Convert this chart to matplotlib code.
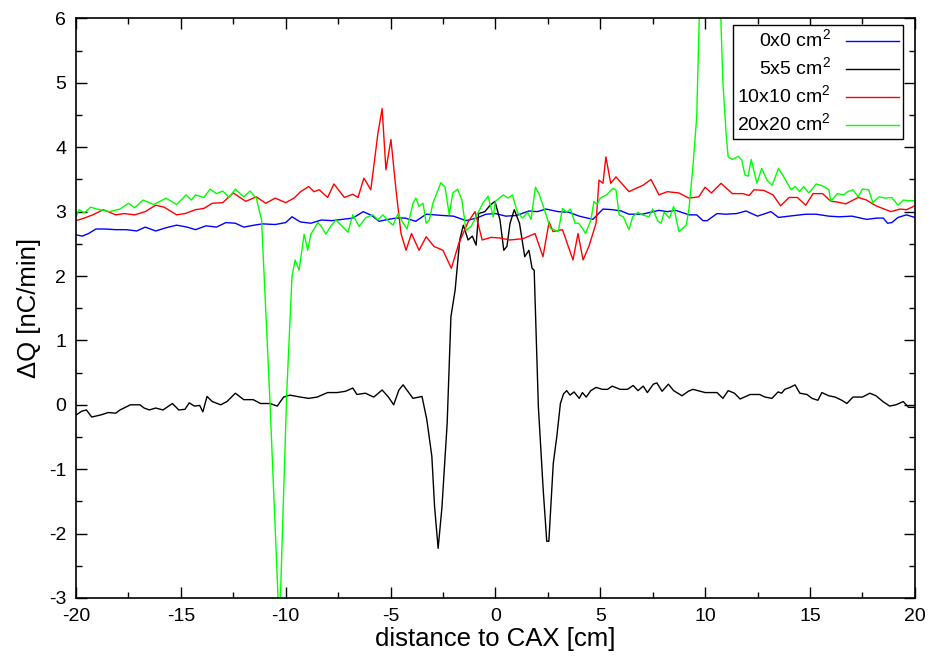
import matplotlib
matplotlib.use("Agg")
import matplotlib.pyplot as plt
from matplotlib.ticker import MultipleLocator

# --- data (x in cm, dQ in nC/min) ---
x_0x0 = [-20, -19.7, -19.4, -19.05, -18.6, -18.1, -17.6, -17.1, -16.7, -16.2,
         -15.7, -15.2, -14.7, -14.3, -13.8, -13.3, -12.85, -12.4, -12.0, -11.5,
         -11.1, -10.5, -10.0, -9.7, -9.3, -8.8, -8.3, -7.8, -7.3, -6.8,
         -6.3, -5.9, -5.55, -5.1, -4.74, -4.3, -3.8, -3.3, -2.9, -2.5,
         -2.0, -1.4, -0.9, -0.45, 0.0, 0.5, 1.0, 1.6, 2.0, 2.41,
         3.0, 3.5, 4.0, 4.65, 5.13, 5.6, 6.0, 6.37, 7.0, 7.4,
         7.8, 8.2, 8.6, 9.23, 9.6, 9.9, 10.1, 10.57, 11.0, 11.5,
         11.95, 12.5, 13.14, 13.5, 14.0, 14.8, 15.3, 15.9, 16.4, 17.0,
         17.7, 18.2, 18.5, 18.7, 18.9, 19.2, 19.6, 20.0]
q_0x0 = [2.64, 2.62, 2.66, 2.73, 2.73, 2.72, 2.72, 2.7, 2.76, 2.7,
         2.75, 2.79, 2.76, 2.72, 2.78, 2.76, 2.83, 2.82, 2.76, 2.79,
         2.81, 2.8, 2.83, 2.92, 2.84, 2.82, 2.87, 2.86, 2.88, 2.9,
         3.0, 2.94, 2.85, 2.88, 2.9, 2.9, 2.85, 2.96, 2.95, 2.94,
         2.93, 2.86, 2.9, 2.96, 2.97, 2.93, 2.94, 3.01, 3.0, 3.04,
         3.0, 2.99, 2.93, 2.88, 3.04, 3.03, 3.01, 2.96, 2.96, 2.99,
         3.02, 3.0, 3.02, 2.95, 2.95, 2.86, 2.86, 2.97, 2.96, 2.97,
         3.01, 2.93, 3.0, 2.91, 2.93, 2.96, 2.96, 2.93, 2.92, 2.93,
         2.88, 2.9, 2.9, 2.82, 2.83, 2.91, 2.95, 2.91]

x_5x5 = [-20, -19.73, -19.5, -19.25, -18.85, -18.45, -18.1, -17.9, -17.4, -16.95,
         -16.75, -16.5, -16.2, -15.85, -15.4, -15.1, -14.8, -14.6, -14.35, -14.1,
         -13.95, -13.75, -13.5, -13.1, -12.8, -12.4, -12.0, -11.55, -11.2, -10.75,
         -10.4, -10.1, -9.8, -9.3, -8.9, -8.5, -8.0, -7.55, -7.15, -6.8,
         -6.6, -6.2, -5.8, -5.4, -5.1, -4.85, -4.6, -4.4, -4.2, -3.93,
         -3.5, -3.27, -3.03, -2.9, -2.73, -2.55, -2.3, -2.12, -1.92, -1.7,
         -1.53, -1.3, -1.1, -0.92, -0.8, -0.5, -0.25, -0.02, 0.22, 0.4,
         0.55, 0.7, 0.9, 1.15, 1.4, 1.6, 1.75, 1.85, 2.05, 2.28,
         2.45, 2.55, 2.76, 2.93, 3.1, 3.25, 3.4, 3.56, 3.75, 4.0,
         4.15, 4.33, 4.55, 4.8, 5.1, 5.35, 5.57, 5.95, 6.3, 6.57,
         6.8, 7.05, 7.25, 7.53, 7.7, 7.95, 8.25, 8.5, 8.9, 9.2,
         9.42, 10.0, 10.57, 10.85, 11.1, 11.4, 11.67, 12.15, 12.6, 12.86,
         13.19, 13.48, 13.65, 13.8, 14.05, 14.29, 14.52, 14.86, 15.1, 15.38,
         15.57, 15.9, 16.2, 16.52, 16.76, 17.05, 17.5, 17.86, 18.15, 18.48,
         18.8, 19.1, 19.45, 19.7, 20.0]
q_5x5 = [-0.16, -0.1, -0.08, -0.19, -0.16, -0.12, -0.13, -0.08, 0.0, 0.0,
         -0.05, -0.08, -0.05, -0.08, 0.02, -0.08, -0.07, 0.03, -0.02, -0.01,
         -0.11, 0.13, 0.05, 0.0, 0.05, 0.18, 0.08, 0.08, 0.02, 0.02,
         -0.02, 0.12, 0.15, 0.12, 0.1, 0.12, 0.19, 0.19, 0.21, 0.26,
         0.16, 0.18, 0.12, 0.23, 0.12, 0.0, 0.23, 0.31, 0.22, 0.1,
         0.13, -0.23, -0.8, -1.58, -2.23, -1.6, -0.29, 1.37, 1.78, 2.56,
         2.79, 2.56, 2.62, 2.48, 2.97, 3.0, 3.1, 3.16, 2.87, 2.4,
         2.46, 2.82, 3.03, 2.82, 2.3, 2.4, 2.12, 2.09, -0.03, -1.32,
         -2.12, -2.12, -0.91, -0.49, 0.02, 0.17, 0.22, 0.15, 0.2, 0.1,
         0.19, 0.12, 0.22, 0.27, 0.24, 0.24, 0.29, 0.24, 0.24, 0.3,
         0.22, 0.29, 0.19, 0.32, 0.34, 0.21, 0.32, 0.22, 0.14, 0.21,
         0.24, 0.19, 0.19, 0.1, 0.22, 0.18, 0.09, 0.16, 0.16, 0.12,
         0.1, 0.2, 0.18, 0.24, 0.27, 0.31, 0.18, 0.16, 0.1, 0.07,
         0.19, 0.14, 0.12, 0.07, 0.02, 0.12, 0.12, 0.18, 0.14, 0.05,
         -0.02, 0.0, 0.05, -0.04, -0.04]

x_10x10 = [-20, -19.6, -19.2, -18.7, -18.1, -17.7, -17.2, -16.7, -16.2, -15.8,
           -15.2, -14.8, -14.3, -13.9, -13.5, -13.0, -12.5, -11.9, -11.4, -10.95,
           -10.5, -10.0, -9.6, -9.29, -8.9, -8.65, -8.4, -8.0, -7.7, -7.2,
           -6.8, -6.55, -6.27, -5.94, -5.6, -5.4, -5.22, -4.98, -4.74, -4.5,
           -4.26, -4.0, -3.64, -3.3, -2.93, -2.5, -2.1, -1.74, -1.3, -0.97,
           -0.63, -0.2, 0.22, 0.7, 1.32, 1.89, 2.27, 2.56, 2.75, 3.2,
           3.7, 3.94, 4.18, 4.46, 4.8, 4.94, 5.13, 5.27, 5.5, 5.75,
           6.1, 6.37, 6.7, 7.04, 7.42, 7.8, 8.2, 8.75, 9.23, 9.7,
           10.0, 10.3, 10.76, 11.3, 11.8, 12.1, 12.33, 12.8, 13.24, 13.6,
           14.0, 14.4, 14.8, 15.15, 15.6, 16.0, 16.3, 16.7, 17.3, 17.7,
           18.15, 18.86, 19.3, 19.6, 20.0]
q_10x10 = [2.86, 2.9, 2.95, 3.03, 2.95, 2.97, 2.95, 3.0, 3.1, 3.07,
           2.95, 2.97, 3.03, 3.05, 3.13, 3.14, 3.29, 3.16, 3.23, 3.13,
           3.21, 3.14, 3.21, 3.31, 3.39, 3.31, 3.34, 3.22, 3.43, 3.22,
           3.27, 3.22, 3.52, 3.34, 4.22, 4.6, 3.65, 4.12, 3.34, 2.66,
           2.4, 2.66, 2.4, 2.61, 2.46, 2.4, 2.12, 2.51, 2.84, 3.0,
           2.56, 2.6, 2.59, 2.56, 2.58, 2.66, 2.3, 2.84, 2.69, 2.72,
           2.25, 2.66, 2.25, 2.46, 2.82, 3.49, 3.44, 3.85, 3.44, 3.54,
           3.41, 3.31, 3.36, 3.41, 3.5, 3.26, 3.31, 3.29, 3.21, 3.23,
           3.38, 3.29, 3.44, 3.28, 3.28, 3.25, 3.34, 3.33, 3.26, 3.09,
           3.22, 3.22, 3.1, 3.28, 3.28, 3.16, 3.15, 3.12, 3.22, 3.18,
           3.09, 3.0, 3.04, 3.03, 3.09]

x_20x20 = [-20, -19.85, -19.6, -19.3, -19.0, -18.4, -17.9, -17.5, -17.2, -16.8,
           -16.3, -15.7, -15.2, -14.75, -14.5, -14.3, -13.9, -13.6, -13.3, -13.0,
           -12.7, -12.4, -12.0, -11.7, -11.4, -11.15, -10.76, -10.3, -9.95, -9.7,
           -9.55, -9.36, -9.12, -8.95, -8.8, -8.46, -8.3, -8.08, -7.84, -7.6,
           -7.3, -7.03, -6.8, -6.5, -6.17, -5.84, -5.6, -5.36, -5.1, -4.88,
           -4.64, -4.4, -4.21, -3.93, -3.79, -3.64, -3.45, -3.3, -3.15, -2.98,
           -2.6, -2.4, -2.2, -2.03, -1.8, -1.6, -1.4, -1.16, -0.92, -0.6,
           -0.35, -0.1, 0.0, 0.38, 0.6, 0.81, 1.05, 1.3, 1.53, 1.7,
           1.91, 2.1, 2.38, 2.62, 2.8, 3.0, 3.2, 3.4, 3.58, 3.8,
           3.97, 4.15, 4.3, 4.56, 4.7, 4.85, 5.0, 5.3, 5.6, 5.75,
           5.9, 6.1, 6.37, 6.55, 6.8, 7.0, 7.32, 7.5, 7.75, 7.9,
           8.05, 8.3, 8.5, 8.75, 9.1, 9.23, 9.42, 9.6, 9.76, 10.2,
           10.7, 10.85, 11.0, 11.1, 11.3, 11.58, 11.75, 11.9, 12.05, 12.2,
           12.47, 12.7, 12.95, 13.2, 13.5, 13.7, 14.1, 14.3, 14.5, 14.7,
           14.95, 15.3, 15.6, 15.9, 16.0, 16.3, 16.6, 16.8, 17.05, 17.3,
           17.5, 17.8, 18.0, 18.3, 18.6, 18.9, 19.2, 19.45, 19.7, 20.0]
q_20x20 = [2.92, 3.03, 2.98, 3.07, 3.04, 3.0, 3.04, 3.13, 3.06, 3.18,
           3.11, 3.21, 3.11, 3.26, 3.18, 3.26, 3.22, 3.35, 3.28, 3.32,
           3.22, 3.35, 3.23, 3.32, 3.21, 2.87, 0.13, -3.5, 0.18, 1.99,
           2.25, 2.09, 2.65, 2.4, 2.65, 2.83, 2.77, 2.65, 2.78, 2.87,
           2.77, 2.68, 2.95, 2.77, 2.91, 2.95, 2.87, 2.95, 2.85, 2.79,
           2.97, 2.82, 2.73, 3.13, 3.21, 3.08, 3.13, 2.82, 2.87, 3.13,
           3.45, 3.38, 2.95, 3.29, 3.35, 3.18, 2.71, 2.77, 2.92, 3.13,
           3.24, 2.92, 3.16, 3.26, 3.21, 3.26, 2.99, 2.9, 2.99, 2.88,
           3.38, 3.26, 2.99, 2.74, 2.72, 2.69, 3.05, 2.99, 3.04, 2.82,
           2.82, 2.74, 2.66, 2.88, 3.16, 3.11, 3.21, 3.26, 3.36, 3.34,
           2.95, 2.92, 2.72, 2.92, 2.99, 2.95, 2.92, 3.04, 2.85, 2.82,
           2.99, 2.9, 3.08, 2.69, 2.79, 3.04, 3.7, 4.47, 6.5, 8.0,
           6.5, 5.0, 4.22, 3.85, 3.81, 3.86, 3.8, 3.57, 3.55, 3.81,
           3.44, 3.67, 3.49, 3.41, 3.67, 3.57, 3.34, 3.39, 3.31, 3.39,
           3.29, 3.43, 3.4, 3.34, 3.16, 3.28, 3.26, 3.31, 3.34, 3.23,
           3.35, 3.34, 3.14, 3.23, 3.21, 3.22, 3.1, 3.18, 3.17, 3.17]

labels = ["0x0 cm$^2$", "5x5 cm$^2$", "10x10 cm$^2$", "20x20 cm$^2$"]
colors = ["#0000ff", "#000000", "#ff0000", "#00ff00"]


def main():
    plt.rcParams["font.family"] = ["Liberation Sans", "DejaVu Sans"]
    plt.rcParams["mathtext.fontset"] = "custom"
    plt.rcParams["mathtext.rm"] = "Liberation Sans"
    plt.rcParams["axes.unicode_minus"] = False

    fig = plt.figure(figsize=(9.31, 6.6), dpi=100)
    ax = fig.add_axes([0.0816, 0.094, 0.901, 0.878])

    series = [(x_0x0, q_0x0), (x_5x5, q_5x5), (x_10x10, q_10x10), (x_20x20, q_20x20)]
    for (xs, qs), lab, col in zip(series, labels, colors):
        ax.plot(xs, qs, color=col, lw=1.0, label=lab)

    ax.set_xlim(-20, 20)
    ax.set_ylim(-3, 6)
    ax.xaxis.set_major_locator(MultipleLocator(5))
    ax.xaxis.set_minor_locator(MultipleLocator(2.5))
    ax.yaxis.set_major_locator(MultipleLocator(1))
    ax.yaxis.set_minor_locator(MultipleLocator(0.5))
    ax.tick_params(which="both", direction="in", top=True, right=True, width=1.0)
    ax.tick_params(which="major", length=8, labelsize=14, pad=7)
    ax.tick_params(which="minor", length=4)
    for sp in ax.spines.values():
        sp.set_linewidth(1.2)

    ax.set_xlabel("distance to CAX [cm]", fontsize=18.5, labelpad=2)
    ax.set_ylabel("\u0394Q [nC/min]", fontsize=18.5, labelpad=6)

    leg = ax.legend(loc="upper right", bbox_to_anchor=(0.9857, 0.989), borderaxespad=0,
                    markerfirst=False, fancybox=False, framealpha=1, edgecolor="black",
                    fontsize=14, handlelength=2.7, handletextpad=0.8, labelspacing=0.28,
                    borderpad=0.2)
    leg.get_frame().set_linewidth(1.0)

    fig.savefig("out.png", dpi=100)
    plt.close(fig)


if __name__ == "__main__":
    main()
